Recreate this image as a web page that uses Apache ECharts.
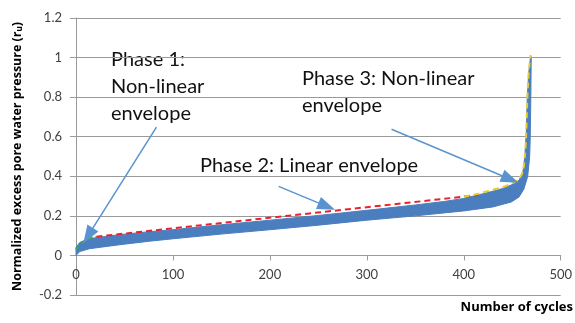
<!DOCTYPE html>
<html>
<head>
<meta charset="utf-8">
<script src="https://cdn.jsdelivr.net/npm/echarts@6/dist/echarts.min.js"></script>
<style>
html,body{margin:0;padding:0;background:#fff;}
#chart{width:575px;height:323px;}
</style>
</head>
<body>
<div id="chart"></div>
<script>
// ---- Data ----
// Upper edge of the measured (oscillating) pore pressure band: [cycle, r_u]
var bandUpper = [[0,0.04],[4,0.066],[14,0.085],[45,0.105],[76,0.12],[100,0.13],[150,0.155],[200,0.178],[250,0.202],[300,0.228],[350,0.255],[380,0.273],[400,0.288],[425,0.318],[440,0.338],[450,0.358],[457,0.38],[461,0.42],[463,0.5],[464.5,0.62],[465.5,0.8],[467,0.92],[469,1.01]];
// Lower edge of the band
var bandLower = [[0,0.0],[4,0.02],[14,0.034],[45,0.054],[76,0.072],[100,0.084],[150,0.108],[200,0.13],[250,0.153],[300,0.178],[350,0.2],[380,0.215],[400,0.225],[430,0.245],[449,0.27],[457,0.295],[462,0.335],[466,0.4],[468,0.5],[468.6,0.6],[469.2,0.8],[469.6,1.0]];
// Phase 1 non-linear envelope (green dashed)
var phase1Env = [[0,0.03],[5,0.06],[10,0.077],[15,0.087],[21,0.095]];
// Phase 2 linear envelope (red dashed)
var phase2Env = [[21,0.095],[415,0.305]];
// Phase 3 non-linear envelope (yellow dashed)
var phase3Env = [[400,0.297],[415,0.312],[425,0.326],[440,0.345],[450,0.365],[457,0.388],[461,0.425],[463,0.5],[464.3,0.6],[465.3,0.75],[466.3,0.87],[467.5,0.95],[469,1.01]];
// Annotation arrows [start, tip] in data units
var arrow1 = [[83,0.648],[12.5,0.1]];
var arrow2 = [[209,0.349],[258.7,0.248]];
var arrow3 = [[325.5,0.638],[448,0.385]];
// Axes
var xTicks = {min:0, max:500, interval:100};
var yTicks = {min:-0.2, max:1.2, interval:0.2};
var xAxisCrossesAt = 0;
var yAxisTitle = 'Normalized excess pore water pressure (r{sub|u})';
var xAxisTitle = 'Number of cycles';
var notes = ['Phase 1:\nNon-linear\nenvelope', 'Phase 2: Linear envelope', 'Phase 3: Non-linear\nenvelope'];

var FONT = 'Lato';
var TITLEFONT = 'Open Sans';
var GRID = '#9a9a9a';
var ARROW = '#5a94d0';

function arrowMark(a){
  return [{coord:a[0]},{coord:a[1]}];
}

var chart = echarts.init(document.getElementById('chart'), null, {renderer:'canvas'});
chart.setOption({
  animation:false,
  backgroundColor:'#fff',
  textStyle:{fontFamily:FONT},
  grid:{left:76, right:12, top:18, bottom:28, containLabel:false},
  xAxis:{
    type:'value', min:xTicks.min, max:xTicks.max, interval:xTicks.interval,
    position:'bottom', offset:0,
    axisLine:{show:true, onZero:false, lineStyle:{color:GRID, width:1}},
    axisTick:{show:true, length:5, lineStyle:{color:GRID}},
    axisLabel:{color:'#404040', fontSize:13, margin:13, fontFamily:FONT},
    splitLine:{show:false}
  },
  yAxis:{
    type:'value', min:yTicks.min, max:yTicks.max, interval:yTicks.interval,
    axisLine:{show:true, onZero:false, lineStyle:{color:GRID, width:1}},
    axisTick:{show:true, length:6, lineStyle:{color:GRID}},
    axisLabel:{color:'#404040', fontSize:13, margin:14, fontFamily:FONT,
      formatter:function(v){return String(parseFloat(v.toFixed(1)));}},
    splitLine:{show:true, lineStyle:{color:GRID, width:1}},
    name:yAxisTitle, nameLocation:'middle', nameGap:52, nameRotate:90,
    nameTextStyle:{fontWeight:'bold', fontSize:12.5, color:'#000', fontFamily:TITLEFONT,
      rich:{sub:{fontSize:8, fontWeight:'bold', fontFamily:TITLEFONT, verticalAlign:'bottom', padding:[6,0,0,0]}}}
  },
  series:[
    {
      type:'custom', coordinateSystem:'cartesian2d', data:[[0,0]], z:2, silent:true,
      renderItem:function(params, api){
        var pts = [];
        for (var i=0;i<bandUpper.length;i++) pts.push(api.coord(bandUpper[i]));
        for (var j=bandLower.length-1;j>=0;j--) pts.push(api.coord(bandLower[j]));
        return {type:'polygon', shape:{points:pts}, style:{fill:'#4a7ebf', stroke:'#4a7ebf', lineWidth:1}};
      }
    },
    {type:'line', data:phase1Env, showSymbol:false, smooth:true, z:3,
      lineStyle:{color:'#3aa657', width:2, type:[5,3]}},
    {type:'line', data:phase2Env, showSymbol:false, z:3,
      lineStyle:{color:'#e8232f', width:2, type:[6,4]}},
    {type:'line', data:phase3Env, showSymbol:false, smooth:0.3, z:3,
      lineStyle:{color:'#e8cc2c', width:2, type:[6,4]}},
    {type:'line', data:[], z:4,
      markLine:{silent:true, symbol:['none','triangle'], symbolSize:[13,18],
        label:{show:false},
        lineStyle:{color:ARROW, width:1.5, type:'solid'},
        data:[arrowMark(arrow1), arrowMark(arrow2), arrowMark(arrow3)]}}
  ],
  graphic:[
    {type:'text', left:111, top:46, style:{text:notes[0], font:'20px Lato', lineHeight:27, fill:'#111'}},
    {type:'text', left:200, top:152, style:{text:notes[1], font:'20px Lato', lineHeight:27, fill:'#111'}},
    {type:'text', left:302, top:65, style:{text:notes[2], font:'20px Lato', lineHeight:27, fill:'#111'}},
    {type:'text', right:2, top:301, style:{text:xAxisTitle, font:'bold 13px "Open Sans"', fill:'#000'}}
  ]
});
// Place the x axis where it crosses y = 0 (as in the reference), using the library's scale
var pyCross = chart.convertToPixel({yAxisIndex:0}, xAxisCrossesAt);
var pyBottom = chart.convertToPixel({yAxisIndex:0}, yTicks.min);
chart.setOption({xAxis:{offset:-(pyBottom - pyCross)}});
</script>
</body>
</html>
